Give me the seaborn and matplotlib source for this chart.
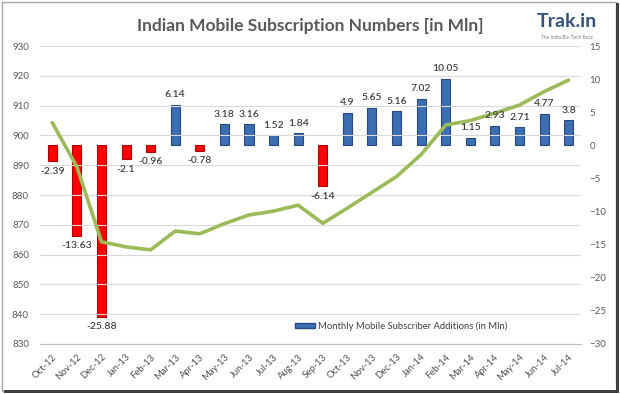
import numpy as np
import pandas as pd
import matplotlib
matplotlib.use('Agg')
import matplotlib.pyplot as plt
import seaborn as sns
from matplotlib.patches import Patch, Rectangle

# data
months = ['Oct-12', 'Nov-12', 'Dec-12', 'Jan-13', 'Feb-13', 'Mar-13', 'Apr-13',
          'May-13', 'Jun-13', 'Jul-13', 'Aug-13', 'Sep-13', 'Oct-13', 'Nov-13',
          'Dec-13', 'Jan-14', 'Feb-14', 'Mar-14', 'Apr-14', 'May-14', 'Jun-14', 'Jul-14']
additions = [-2.39, -13.63, -25.88, -2.1, -0.96, 6.14, -0.78, 3.18, 3.16, 1.52, 1.84,
             -6.14, 4.9, 5.65, 5.16, 7.02, 10.05, 1.15, 2.93, 2.71, 4.77, 3.8]
subscribers = [904.3, 889.5, 864.3, 862.6, 861.6, 867.9, 867.0, 870.4, 873.3, 874.6,
               876.6, 870.5, 875.6, 880.9, 886.2, 893.6, 903.5, 905.0, 907.5, 910.2,
               914.7, 918.6]

df = pd.DataFrame({'month': months, 'adds': additions, 'subs': subscribers})
df['pos'] = np.arange(len(df))

sns.set_style('white')
plt.rcParams['font.family'] = ['Lato', 'DejaVu Sans']

grey = '#595959'
blue = '#3C6EB4'
red = '#FF0000'
bar_colors = [blue if v >= 0 else red for v in additions]
edge_colors = ['#27497A' if v >= 0 else '#B00000' for v in additions]

fig = plt.figure(figsize=(6.2, 3.94), dpi=100)
ax = fig.add_axes([0.0645, 0.127, 0.8725, 0.756])   # left axis: subscribers
ax2 = ax.twinx()                                      # right axis: additions

# bars on the right axis
sns.barplot(data=df, x='month', y='adds', hue='month', palette=bar_colors,
            width=0.37, legend=False, ax=ax2, saturation=1)
for p, ec in zip(ax2.patches, edge_colors):
    p.set_edgecolor(ec)
    p.set_linewidth(0.8)

# line on the left axis, drawn above the bars
sns.lineplot(data=df, x='pos', y='subs', color='#9BBB59', linewidth=2.6, ax=ax)
ax.set_zorder(ax2.get_zorder() + 1)
ax.patch.set_visible(False)

# value labels sit on top of the line
for i, v in enumerate(additions):
    off = 4 if v >= 0 else -4
    ax.annotate(f'{v:g}', (i, v), xycoords=ax2.transData, xytext=(0, off),
                textcoords='offset points', ha='center',
                va='bottom' if v >= 0 else 'top', zorder=5,
                fontsize=7.5, color='#404040', fontweight='semibold')

ax.set_ylim(830, 930)
ax.set_yticks(np.arange(830, 931, 10))
ax2.set_ylim(-30, 15)
ax2.set_yticks(np.arange(-30, 16, 5))
ax.set_xlim(-0.5, len(months) - 0.5)
ax2.set_xlim(-0.5, len(months) - 0.5)

ax.yaxis.grid(True, color='#D9D9D9', linewidth=0.8)
ax.set_xticks(df['pos'])
ax.set_xticklabels(months, rotation=45, ha='right', rotation_mode='anchor')
ax.set_xticks(np.arange(-0.5, len(months), 1), minor=True)
ax.tick_params(axis='x', which='major', length=0, pad=6, labelsize=6.8, labelcolor='#505050')
ax.tick_params(axis='x', which='minor', length=4, color='#BFBFBF', width=0.8)
ax.tick_params(axis='y', length=0, pad=8, labelsize=7, labelcolor=grey)
ax2.tick_params(axis='y', length=0, pad=6, labelsize=7, labelcolor=grey)
ax2.tick_params(axis='x', length=0, labelbottom=False)
ax.set_xlabel('')
ax.set_ylabel('')
ax2.set_xlabel('')
ax2.set_ylabel('')

for a in (ax, ax2):
    for s in ('top', 'left', 'right'):
        a.spines[s].set_visible(False)
    a.spines['bottom'].set_color('#BFBFBF')
ax2.spines['bottom'].set_visible(False)

ax.legend(handles=[Patch(facecolor=blue, edgecolor='#27497A')],
          labels=['Monthly Mobile Subscriber Additions (in Mln)'],
          loc='center left', bbox_to_anchor=(0.455, 0.06), frameon=False,
          fontsize=6.8, handlelength=2.2, handleheight=0.4, handletextpad=0.3,
          labelcolor='#404040')

fig.text(0.5, 0.935, 'Indian Mobile Subscription Numbers [in Mln]', ha='center',
         va='center', fontsize=12.5, fontweight='bold', color=grey)
fig.text(0.915, 0.945, 'Trak.in', ha='center', va='center', fontsize=14,
         fontweight='bold', color='#34527C')
fig.text(0.915, 0.905, 'The India Biz-Tech Buzz', ha='center', va='center',
         fontsize=3.5, color='#7F7F7F')

# frame around the picture
fig.add_artist(Rectangle((0.004, 0.008), 0.99, 0.987, transform=fig.transFigure,
                         fill=False, edgecolor='#A6A6A6', linewidth=1.0))
fig.add_artist(Rectangle((0.006, 0.003), 0.992, 0.006, transform=fig.transFigure,
                         facecolor='#404040', edgecolor='none'))
fig.add_artist(Rectangle((0.993, 0.003), 0.005, 0.99, transform=fig.transFigure,
                         facecolor='#404040', edgecolor='none'))

plt.savefig('out.png', dpi=100)
